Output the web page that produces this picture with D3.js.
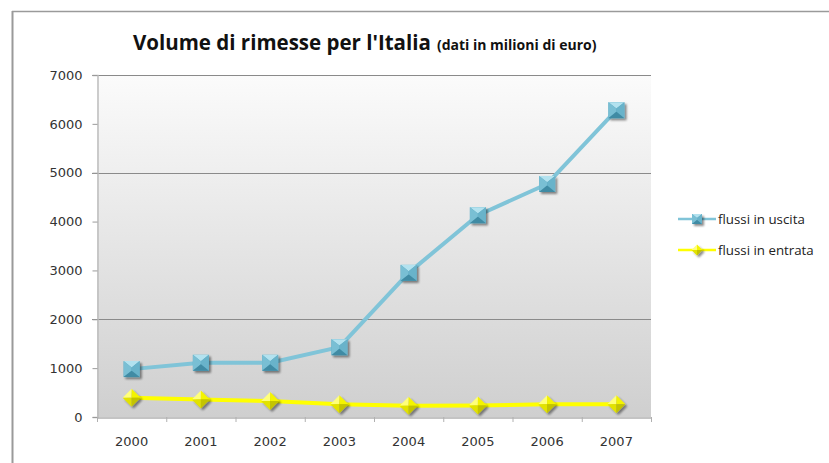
<!DOCTYPE html>
<html>
<head>
<meta charset="utf-8">
<script src="https://cdn.jsdelivr.net/npm/d3@7/dist/d3.min.js"></script>
<style>
  html, body { margin: 0; padding: 0; background: #ffffff; }
  svg { display: block; }
</style>
</head>
<body>
<svg id="chart" width="829" height="463"></svg>
<script>
// Remittance volumes for Italy, millions of euro
const years = ["2000", "2001", "2002", "2003", "2004", "2005", "2006", "2007"];
const uscita = [980, 1110, 1110, 1430, 2950, 4130, 4770, 6280];   // flussi in uscita
const entrata = [395, 360, 325, 260, 230, 235, 260, 260];        // flussi in entrata
const yTicks = [0, 1000, 2000, 3000, 4000, 5000, 6000, 7000];
const gridValues = [2000, 5000, 7000];
const seriesNames = ["flussi in uscita", "flussi in entrata"];

const svg = d3.select("#chart");
const plotLeft = 97, plotRight = 651, plotTop = 75, plotBottom = 417;

const x = d3.scaleBand().domain(years).range([plotLeft, plotRight]).padding(0);
const y = d3.scaleLinear().domain([0, 7000]).range([plotBottom, plotTop]);

const defs = svg.append("defs");
const grad = defs.append("linearGradient").attr("id", "plotBg")
  .attr("x1", 0).attr("y1", 0).attr("x2", 0).attr("y2", 1);
grad.append("stop").attr("offset", "0%").attr("stop-color", "#fbfbfb");
grad.append("stop").attr("offset", "100%").attr("stop-color", "#cfcfcf");

const shadow = defs.append("filter").attr("id", "mshadow")
  .attr("x", "-50%").attr("y", "-50%").attr("width", "200%").attr("height", "200%");
shadow.append("feGaussianBlur").attr("in", "SourceAlpha").attr("stdDeviation", 1.2).attr("result", "b");
shadow.append("feOffset").attr("in", "b").attr("dx", 1.5).attr("dy", 2).attr("result", "o");
shadow.append("feComponentTransfer").attr("in", "o").attr("result", "s")
  .append("feFuncA").attr("type", "linear").attr("slope", 0.45);
const merge = shadow.append("feMerge");
merge.append("feMergeNode").attr("in", "s");
merge.append("feMergeNode").attr("in", "SourceGraphic");

// chart frame
svg.append("line").attr("x1", 12).attr("x2", 829).attr("y1", 11.5).attr("y2", 11.5)
  .attr("stroke", "#9a9a9a").attr("stroke-width", 1.5);
svg.append("line").attr("x1", 12.5).attr("x2", 12.5).attr("y1", 11).attr("y2", 463)
  .attr("stroke", "#9a9a9a").attr("stroke-width", 2);

// plot area
svg.append("rect").attr("x", plotLeft).attr("y", plotTop)
  .attr("width", plotRight - plotLeft).attr("height", plotBottom - plotTop)
  .attr("fill", "url(#plotBg)");

// gridlines
svg.append("g").selectAll("line").data(gridValues).join("line")
  .attr("x1", plotLeft - 5).attr("x2", plotRight)
  .attr("y1", d => Math.round(y(d)) + 0.5).attr("y2", d => Math.round(y(d)) + 0.5)
  .attr("stroke", "#8a8a8a").attr("stroke-width", 1);

// y axis
const yAxis = svg.append("g").attr("transform", `translate(${plotLeft + 0.5},0)`)
  .call(d3.axisLeft(y).tickValues(yTicks).tickSize(5).tickPadding(10).tickFormat(d3.format("d")));
yAxis.select(".domain").attr("stroke", "#bdbdbd").attr("stroke-width", 1.5);
yAxis.selectAll(".tick line").attr("stroke", "#9a9a9a");
yAxis.selectAll(".tick text").attr("font-family", "DejaVu Sans, sans-serif")
  .attr("font-size", 13).attr("fill", "#333");

// x axis
const xAxis = svg.append("g").attr("transform", `translate(0,${plotBottom + 0.5})`)
  .call(d3.axisBottom(x).tickSize(0).tickPadding(19));
xAxis.select(".domain").attr("stroke", "#b0b0b0").attr("stroke-width", 1.5);
xAxis.selectAll(".tick text").attr("font-family", "DejaVu Sans, sans-serif")
  .attr("font-size", 13).attr("fill", "#333");
// category separators
const bounds = years.map(d => x(d)).concat([plotRight]);
svg.append("g").selectAll("line").data(bounds).join("line")
  .attr("x1", d => d + 0.5).attr("x2", d => d + 0.5)
  .attr("y1", plotBottom).attr("y2", plotBottom + 5)
  .attr("stroke", "#b0b0b0").attr("stroke-width", 1);

const cx = d => x(d) + x.bandwidth() / 2;

// series lines
const line = (vals) => d3.line().x((d, i) => cx(years[i])).y(d => y(d))(vals);
svg.append("path").attr("d", line(uscita)).attr("fill", "none")
  .attr("stroke", "#80c4d8").attr("stroke-width", 4).attr("stroke-linejoin", "round");
svg.append("path").attr("d", line(entrata)).attr("fill", "none")
  .attr("stroke", "#ffff00").attr("stroke-width", 4).attr("stroke-linejoin", "round");

// bevelled square marker
function squareMarker(g, px, py, s) {
  const h = s / 2, c = s * 0.1;
  const m = g.append("g").attr("transform", `translate(${px},${py})`).attr("filter", "url(#mshadow)");
  m.append("rect").attr("x", -h).attr("y", -h).attr("width", s).attr("height", s).attr("fill", "#5aa7bf");
  m.append("path").attr("d", `M${-h},${-h}L${h},${-h}L0,${-c}Z`).attr("fill", "#b3e2ef");
  m.append("path").attr("d", `M${-h},${-h}L0,${-c}L0,${c}L${-h},${h}Z`).attr("fill", "#79bfd4");
  m.append("path").attr("d", `M${h},${-h}L0,${-c}L0,${c}L${h},${h}Z`).attr("fill", "#69b3ca");
  m.append("path").attr("d", `M${-h},${h}L${h},${h}L0,${c}Z`).attr("fill", "#3f8ba4");
}
// bevelled diamond marker
function diamondMarker(g, px, py, s) {
  const h = s / 2;
  const m = g.append("g").attr("transform", `translate(${px},${py})`).attr("filter", "url(#mshadow)");
  m.append("path").attr("d", `M0,${-h}L${-h},0L0,0Z`).attr("fill", "#ffff7a");
  m.append("path").attr("d", `M0,${-h}L${h},0L0,0Z`).attr("fill", "#f4f400");
  m.append("path").attr("d", `M${-h},0L0,${h}L0,0Z`).attr("fill", "#e2e200");
  m.append("path").attr("d", `M${h},0L0,${h}L0,0Z`).attr("fill", "#c4c400");
}

const mk = svg.append("g");
uscita.forEach((v, i) => squareMarker(mk, cx(years[i]), y(v), 16));
entrata.forEach((v, i) => diamondMarker(mk, cx(years[i]), y(v), 18));

// title
const title = svg.append("text").attr("x", 133).attr("y", 50)
  .attr("font-family", "'Open Sans', sans-serif").attr("font-weight", "bold").attr("fill", "#111");
title.append("tspan").attr("font-size", 20.5).text("Volume di rimesse per l'Italia");
title.append("tspan").attr("font-size", 14).attr("dx", 6).text("(dati in milioni di euro)");

// legend
const legend = svg.append("g");
const legendY = [219, 250];
legend.append("line").attr("x1", 678).attr("x2", 716).attr("y1", legendY[0]).attr("y2", legendY[0])
  .attr("stroke", "#80c4d8").attr("stroke-width", 2.5);
squareMarker(legend, 697, legendY[0], 10);
legend.append("line").attr("x1", 678).attr("x2", 716).attr("y1", legendY[1]).attr("y2", legendY[1])
  .attr("stroke", "#ffff00").attr("stroke-width", 2.5);
diamondMarker(legend, 697, legendY[1], 11);
legend.selectAll("text").data(seriesNames).join("text")
  .attr("x", 718).attr("y", (d, i) => legendY[i]).attr("dy", "0.35em")
  .attr("font-family", "'Open Sans', sans-serif").attr("font-size", 13.3).attr("fill", "#222")
  .text(d => d);
</script>
</body>
</html>
